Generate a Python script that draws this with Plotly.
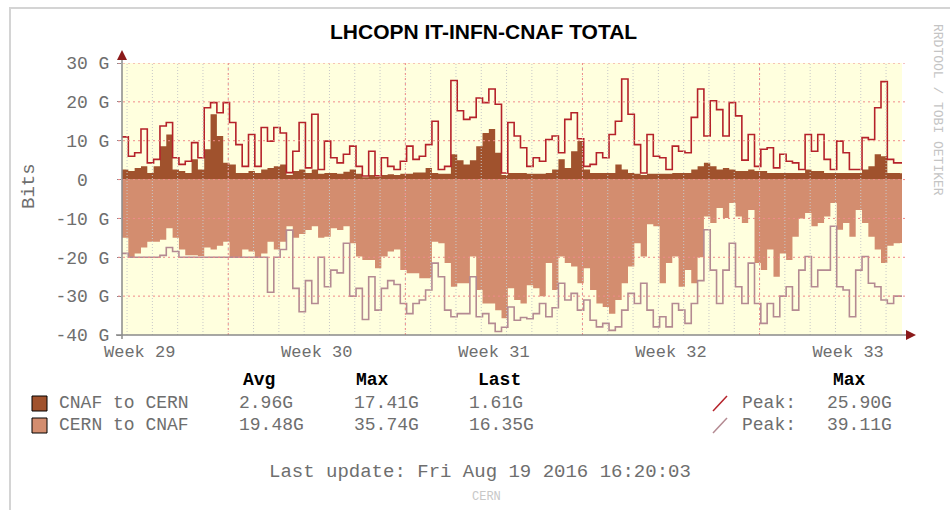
import plotly.graph_objects as go

# ---------------- data (6-hour bins, values in Gbit/s) ----------------
BIN_DAYS = 0.25
cnaf_to_cern_avg = [2.6, 2.2, 3, 3.4, 1.7, 3.4, 8.6, 11.6, 2.6, 2.2, 1.7, 5.2, 2.6, 7.8, 16.8, 11.2, 4.3, 3.9, 1.7, 1.7,
                    2.2, 1.7, 2.6, 3, 3.4, 3.9, 1.2, 2.2, 2.6, 1.7, 2.6, 1.5, 1.7, 1.7, 1.5, 2, 2.6, 1.5, 0.6, 1.2,
                    0.7, 1.2, 1.4, 1.2, 1.5, 1.5, 1.8, 1.8, 3, 1.7, 1.5, 1.5, 6.5, 5, 3.9, 5, 8.6, 12, 13, 6.9,
                    1.2, 1.7, 1.7, 1.7, 1.5, 1.5, 1.5, 1.7, 2.6, 5.2, 3, 7.3, 9.9, 2.6, 1.7, 1.7, 1.7, 1.7, 3.9, 2.6,
                    1.7, 1.5, 1.2, 1.5, 1.5, 1.5, 1.5, 1.7, 1.7, 1.7, 2.6, 3.4, 4.3, 3.4, 2.6, 3, 2.6, 2.2, 2.2, 2.6,
                    2.2, 2.2, 1.7, 1.7, 1.7, 1.7, 1.7, 1.7, 2.6, 2.2, 2.2, 1.7, 1.7, 1.7, 1.7, 1.7, 1.7, 2.6, 3.4, 6.5,
                    6, 1.7, 1.7, 1.61]
cnaf_to_cern_peak = [11, 6, 6.9, 13, 4.3, 5.2, 13.8, 14.7, 5.6, 3.9, 4.7, 9.5, 5.6, 18.5, 19.8, 17.2, 19.8, 14.7, 9, 3.4,
                     11.6, 3.4, 13.4, 9.9, 13.4, 12, 1.8, 7.3, 14.7, 3, 16.8, 2.6, 9.9, 5.6, 4.3, 6.5, 8.6, 3.4, 0.9, 7.3,
                     1.0, 5.6, 3.4, 2.6, 4.7, 8.6, 5.2, 6, 9, 15, 2.6, 3.4, 25.5, 17.7, 15.5, 16, 21, 19.8, 23.3, 19.4,
                     1.7, 14.7, 11.2, 8.2, 3.4, 5.6, 4.7, 10.3, 11.2, 6.9, 15.5, 17.2, 10.5, 3.4, 3.9, 6.9, 5.6, 11.6, 15, 25.9,
                     16.8, 9, 1.7, 11.6, 6, 5.6, 2.6, 8.6, 7.3, 6.9, 16, 23.3, 11.2, 20.3, 18, 11.2, 19.8, 16.4, 5, 11.6,
                     3.4, 7.8, 8.2, 3, 6.5, 4.7, 4.3, 2.6, 11.6, 7.3, 11.6, 5.2, 2.6, 9.9, 6.9, 2.6, 2.6, 10.8, 10.3, 18.5,
                     25.2, 5.2, 4.3, 4.3]
cern_to_cnaf_avg = [15, 20, 19, 17.5, 16, 16, 15.5, 12.5, 15, 18, 19.5, 19.5, 19.7, 17.5, 18, 17, 16, 20, 20, 18,
                    18.5, 20, 19, 16, 18, 16, 12, 15, 14, 13, 12, 15, 14.7, 12.5, 13, 12, 16.4, 19.8, 20.7, 20.7,
                    22.8, 19.8, 18.5, 18, 23.3, 24.1, 24.1, 25.4, 25.4, 16, 16.4, 21.5, 27.6, 26.7, 26.7, 19.8, 28.4, 31.9, 31.9, 33.6,
                    35.7, 28, 31, 31.9, 27.2, 28, 30, 21.5, 28.4, 19.8, 21.5, 22.4, 26.7, 22.8, 28.4, 31.9, 32.8, 34.5, 31, 26.7,
                    22.4, 16.4, 19.8, 11.5, 12, 26.7, 21.5, 19.8, 27.6, 23.3, 26.7, 20, 9.5, 11.2, 7.3, 9.9, 6, 9.5, 11.2, 7.8,
                    21.5, 23.3, 18, 25, 19, 20.7, 14.7, 10, 8.6, 12, 11.2, 9.5, 6, 12.9, 11.2, 14.7, 7.8, 11.2, 14.7, 18,
                    21.5, 17, 16.4, 16.35]
cern_to_cnaf_peak = [19, 20, 20, 20, 20, 20, 19.5, 17.5, 18.5, 20, 20, 20, 20, 20, 20, 20, 20, 20, 20, 20,
                     20, 20, 20, 29, 20, 18, 13, 28, 34, 26, 31.9, 20, 27.6, 23.3, 24, 16.4, 30, 28, 36, 25,
                     33.6, 28, 26, 27, 31.9, 34.5, 31.9, 31, 28.4, 21.5, 25, 33.6, 35.3, 34.5, 34.5, 25, 35.3, 34.5, 37, 39.1,
                     38, 32.8, 36.2, 35.5, 35.8, 34.5, 31.9, 35.3, 33, 26.7, 31, 29.3, 33.6, 31, 36.2, 37.9, 37, 38.8, 37.9, 33.6,
                     29.3, 31.9, 26.7, 33.6, 37.9, 35.3, 37.9, 31.9, 33.6, 37, 31.9, 26, 12.9, 23.3, 31.9, 23.3, 16.4, 27.6, 31.9, 21.5,
                     31.9, 37, 31.9, 35.3, 30, 27.6, 33.6, 23.3, 19.8, 27.6, 23.3, 23.3, 12, 27.6, 28.4, 35.3, 23.3, 19.8, 26.7, 27.6,
                     31, 31.9, 30, 30]

y_ticks = [-40, -30, -20, -10, 0, 10, 20, 30]
y_tick_labels = ["-40 G", "-30 G", "-20 G", "-10 G", "0\u00a0\u00a0", "10 G", "20 G", "30 G"]
week_labels = ["Week 29", "Week 30", "Week 31", "Week 32", "Week 33"]
week_label_days = [0.7, 7.7, 14.7, 21.7, 28.7]     # middle of each week
week_start_days = [4.2, 11.2, 18.2, 25.2]          # Monday 00:00
first_midnight = 0.2
X_RANGE = [0, 30.83]
Y_RANGE = [-40, 30]

series_names = ["CNAF to CERN", "CERN to CNAF"]
stat_avg = ["2.96G", "19.48G"]
stat_max = ["17.41G", "35.74G"]
stat_last = ["1.61G", "16.35G"]
peak_max = ["25.90G", "39.11G"]

# ---------------- styling ----------------
C_OUT_AREA = "#A0522D"
C_IN_AREA = "#D38D6F"
C_OUT_PEAK = "#B5222A"
C_IN_PEAK = "#B48A92"
C_BG = "#FFFFDE"
C_MAJOR = "#F08A8A"
C_MINOR = "#C8C8C8"
C_TEXT = "#6e6e6e"
MONO = "Liberation Mono, Courier New, monospace"

W, H = 950, 510
L, R, T, B = 122, 902, 63, 335


def xp(px):
    return (px - L) / (R - L)


def yp(py):
    return (B - py) / (B - T)


n = len(cnaf_to_cern_avg)
t = [i * BIN_DAYS for i in range(n + 1)]


def step(v, sign=1):
    return [sign * a for a in v] + [sign * v[-1]]


fig = go.Figure()
fig.add_trace(go.Scatter(x=t, y=step(cern_to_cnaf_avg, -1), mode="lines",
                         line=dict(shape="hv", width=0, color=C_IN_AREA),
                         fill="tozeroy", fillcolor=C_IN_AREA, hoverinfo="skip"))
fig.add_trace(go.Scatter(x=t, y=step(cnaf_to_cern_avg), mode="lines",
                         line=dict(shape="hv", width=0, color=C_OUT_AREA),
                         fill="tozeroy", fillcolor=C_OUT_AREA, hoverinfo="skip"))
fig.add_trace(go.Scatter(x=t, y=step(cnaf_to_cern_peak), mode="lines",
                         line=dict(shape="hv", width=1.6, color=C_OUT_PEAK), hoverinfo="skip"))
fig.add_trace(go.Scatter(x=t, y=step(cern_to_cnaf_peak, -1), mode="lines",
                         line=dict(shape="hv", width=1.6, color=C_IN_PEAK), hoverinfo="skip"))

shapes = []
# minor (daily) vertical grid
d = first_midnight
day_grid = []
while d < X_RANGE[1]:
    day_grid.append(d)
    d += 1
for dd in day_grid:
    shapes.append(dict(type="line", xref="x", yref="paper", x0=dd, x1=dd, y0=0, y1=1,
                       line=dict(color=C_MINOR, width=1, dash="1px,2px"), layer="above"))
# major (weekly) vertical grid
for dd in week_start_days:
    shapes.append(dict(type="line", xref="x", yref="paper", x0=dd, x1=dd, y0=0, y1=1,
                       line=dict(color=C_MAJOR, width=1, dash="2px,3px"), layer="above"))
# horizontal grid
for v in y_ticks[1:]:
    shapes.append(dict(type="line", xref="paper", yref="y", x0=xp(118), x1=xp(906), y0=v, y1=v,
                       line=dict(color=C_MAJOR, width=1, dash="2px,3px"), layer="above"))
# axes lines
shapes.append(dict(type="line", xref="paper", yref="paper", x0=0, x1=0, y0=yp(B + 4), y1=yp(56),
                   line=dict(color="#8a8a8a", width=1.5), layer="above"))
shapes.append(dict(type="line", xref="paper", yref="paper", x0=xp(116), x1=xp(908), y0=0, y1=0,
                   line=dict(color="#8a8a8a", width=1.5), layer="above"))
# arrow heads
shapes.append(dict(type="path", xref="paper", yref="paper",
                   path=f"M {xp(117)} {yp(60)} L {xp(127)} {yp(60)} L {xp(122)} {yp(50)} Z",
                   fillcolor="#8B1A1A", line=dict(width=0), layer="above"))
shapes.append(dict(type="path", xref="paper", yref="paper",
                   path=f"M {xp(906)} {yp(330)} L {xp(906)} {yp(340)} L {xp(916)} {yp(335)} Z",
                   fillcolor="#8B1A1A", line=dict(width=0), layer="above"))
# frame
shapes.append(dict(type="rect", xref="paper", yref="paper", x0=xp(10), x1=xp(960), y0=yp(8), y1=yp(520),
                   line=dict(color="#D4D4D4", width=2), fillcolor="rgba(0,0,0,0)", layer="below"))

# legend swatches
row_y = [403, 425]
area_cols = [C_OUT_AREA, C_IN_AREA]
peak_cols = [C_OUT_PEAK, C_IN_PEAK]
for ry, col, pc in zip(row_y, area_cols, peak_cols):
    shapes.append(dict(type="rect", xref="paper", yref="paper", x0=xp(32), x1=xp(47), y0=yp(ry - 7), y1=yp(ry + 8),
                       fillcolor=col, line=dict(color="#000", width=1)))
    shapes.append(dict(type="line", xref="paper", yref="paper", x0=xp(713), x1=xp(727), y0=yp(ry + 8), y1=yp(ry - 7),
                       line=dict(color=pc, width=1.5)))

ann = []


def text(s, x, y, size=18, color=C_TEXT, anchor="left", bold=False, family=MONO, angle=0):
    ann.append(dict(text=f"<b>{s}</b>" if bold else s, x=xp(x), y=yp(y), xref="paper", yref="paper",
                    xanchor=anchor, yanchor="middle", showarrow=False, textangle=angle,
                    font=dict(size=size, color=color, family=family)))


text("LHCOPN IT-INFN-CNAF TOTAL", 483, 32, size=21, color="#000", anchor="center", bold=True,
     family="Liberation Sans, Arial, sans-serif")
text("Bits", 29, 186, size=19, anchor="center", angle=-90)
text("RRDTOOL / TOBI OETIKER", 938, 110, size=13, color="#C4C4C4", anchor="center", angle=90)
text("Avg", 259, 380, color="#000", anchor="center", bold=True)
text("Max", 372, 380, color="#000", anchor="center", bold=True)
text("Last", 499, 380, color="#000", anchor="center", bold=True)
text("Max", 849, 380, color="#000", anchor="center", bold=True)
for i, ry in enumerate(row_y):
    text(series_names[i], 57, ry)
    text(stat_avg[i], 237, ry)
    text(stat_max[i], 352, ry)
    text(stat_last[i], 467, ry)
    text("Peak:", 740, ry)
    text(peak_max[i], 825, ry)
text("Last update: Fri Aug 19 2016 16:20:03", 480, 472, size=19, anchor="center")
text("CERN", 486, 497, size=12, color="#C8C8C8", anchor="center")

fig.update_layout(
    width=W, height=H, autosize=False,
    margin=dict(l=L, r=W - R, t=T, b=H - B, pad=0),
    paper_bgcolor="#FFFFFF", plot_bgcolor=C_BG,
    showlegend=False, shapes=shapes, annotations=ann,
    xaxis=dict(range=X_RANGE, tickmode="array", tickvals=week_label_days, ticktext=week_labels,
               showgrid=False, zeroline=False, showline=False, ticks="",
               tickfont=dict(family=MONO, size=17, color=C_TEXT), ticklabelstandoff=4, fixedrange=True),
    yaxis=dict(range=Y_RANGE, tickmode="array", tickvals=y_ticks, ticktext=y_tick_labels,
               showgrid=False, zeroline=False, showline=False, ticks="outside", ticklen=4,
               tickcolor="#8a8a8a", tickfont=dict(family=MONO, size=18, color=C_TEXT),
               ticklabelstandoff=4, fixedrange=True),
)

fig.write_html("out.html", config={"displayModeBar": False},
               post_script="document.body.style.margin='0px';")
